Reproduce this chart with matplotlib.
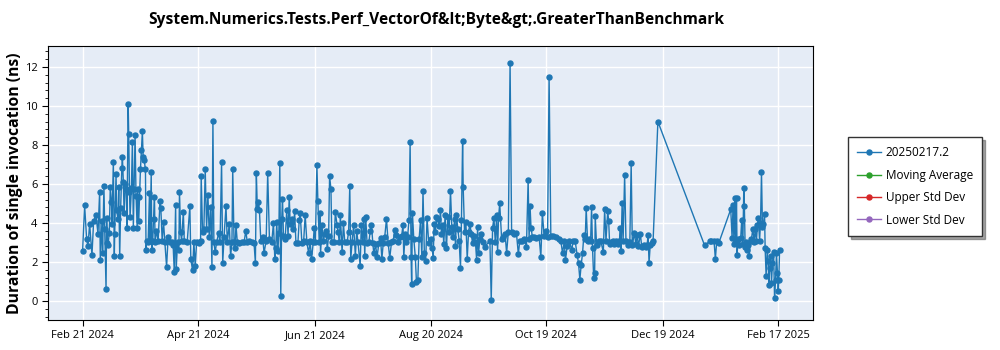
import matplotlib
matplotlib.use("Agg")
import matplotlib.pyplot as plt
import matplotlib.dates as mdates
from matplotlib.ticker import MultipleLocator
import pandas as pd

plt.rcParams['font.family'] = ['Open Sans', 'DejaVu Sans']

title = "System.Numerics.Tests.Perf_VectorOf&lt;Byte&gt;.GreaterThanBenchmark"
series_name = "20250217.2"
start_date = "2024-02-21"

# days since Feb 21 2024
day_offset = [
    0, 1.05, 2.09, 2.79, 3.66, 4.87, 5.74, 6.96, 8.0, 8.87, 9.2, 10.1, 10.4, 11.1, 11.5, 12.2,
    12.5, 12.9, 13.2, 13.9, 14.4, 15.0, 15.3, 16.0, 16.5, 16.7, 17.4, 17.7, 18.4, 18.8, 19.3,
    19.8, 20.4, 20.7, 21.2, 21.6, 22.3, 22.8, 23.1, 23.7, 24.0, 24.4, 24.7, 25.4, 25.9, 26.4,
    26.8, 27.3, 27.8, 28.4, 28.7, 29.2, 29.6, 30.1, 30.6, 31.1, 31.5, 32.0, 32.7, 33.0, 33.4,
    34.1, 34.8, 35.1, 35.7, 36.0, 36.5, 36.9, 37.4, 37.7, 38.4, 39.3, 40.3, 40.7, 41.4, 42.1,
    42.8, 43.7, 44.5, 45.4, 46.3, 47.1, 47.7, 48.4, 48.7, 49.4, 50.1, 50.4, 51.0, 51.5, 52.4,
    52.9,
    54.4, 55.8, 56.3, 57.2, 57.9, 58.6, 59.3, 60.5, 61.4, 61.7, 62.4, 63.1, 63.8, 64.5, 65.2,
    65.9, 66.6, 67.3, 67.8, 68.3, 69.0, 69.7, 70.8, 71.5, 72.3, 72.9, 73.6, 74.6, 75.3, 76.3,
    77.0, 77.7, 78.1, 78.8, 79.3, 79.8, 80.5, 81.6, 82.8, 84.0, 84.9, 85.7, 86.8, 88.0, 89.2,
    89.9, 90.4, 90.9, 91.5, 92.0, 92.7, 93.7, 94.4, 95.5, 96.3, 97.2, 98.4, 99.3, 100.0, 100.5,
    101.0, 101.6, 102.1, 102.6, 103.1, 103.6, 104.0, 104.5, 105.4, 106.2, 106.9, 107.5, 108.0,
    108.9, 109.7, 110.3, 111.0, 112.0, 112.7, 113.2, 114.1, 115.0, 115.8, 116.7, 117.6, 118.4,
    119.1, 120.0, 120.5, 121.1, 121.9, 122.4, 123.1, 123.5, 123.8, 124.5, 125.2, 125.9, 126.6,
    127.3, 128.0, 128.5, 129.2, 129.7, 130.8, 131.5, 132.4, 132.9, 133.6, 134.1, 135.0, 135.7,
    136.4, 137.6, 138.4, 139.0, 139.5, 140.2, 141.0, 141.9, 142.6, 143.3, 144.4, 145.0, 145.7,
    146.3, 146.8, 147.3, 148.0, 148.9, 149.7, 150.3, 151.0, 151.5, 152.4, 153.2, 154.1, 155.0,
    155.7, 156.4, 157.2, 158.1, 159.0, 159.8, 160.7, 161.6,
    162.4, 163.2, 163.9, 165.0, 166.0, 166.7, 167.1, 167.8, 168.4, 169.1, 169.8, 170.4, 170.9,
    171.2, 171.6, 172.3, 173.1, 173.7, 174.4, 175.1, 175.8, 176.5, 177.1, 177.8, 178.5, 179.2,
    180.1, 181.0, 181.8, 182.4, 182.9, 183.6, 184.1, 184.8, 185.5, 186.2, 186.7, 187.4, 187.9,
    188.6, 189.3, 190.0, 190.7, 191.4, 192.1, 192.8, 193.5, 194.0, 194.5, 195.2, 195.9, 196.6,
    197.1, 197.7, 198.0, 198.7, 199.4, 200.1, 200.8, 201.5, 202.2, 202.9, 203.6, 204.4, 205.0,
    205.5, 206.0, 206.7, 207.4, 208.4, 209.1, 211.9, 212.6, 213.3, 214.0, 214.7, 215.4, 215.9,
    216.4, 217.0,
    218.0, 218.7, 219.8, 220.6, 221.5, 222.4, 223.2, 224.5, 225.7, 226.7, 227.4, 228.8, 229.9,
    230.9, 231.8, 232.3, 232.8, 233.3, 234.0, 234.9, 236.1, 237.5, 238.4, 239.2, 240.1, 241.0,
    241.9, 242.7, 243.6, 244.8, 246.2, 247.6, 248.8, 249.7, 250.6, 251.2, 252.1, 253.2, 254.5,
    255.2, 256.3, 257.3, 258.0, 258.7, 259.4, 260.1, 260.8, 261.5, 262.0, 262.7, 263.6, 264.3,
    264.8, 265.3, 265.9, 266.4, 266.7, 267.4, 268.5, 269.7, 270.9, 271.6, 272.3,
    273.2, 273.7, 274.2, 274.9, 275.8, 276.7, 277.5, 278.4, 279.3, 279.8, 280.1, 280.7, 281.2,
    282.0, 282.7, 283.6, 284.7, 285.4, 286.0, 287.1, 287.8, 288.5, 289.2, 290.2, 290.9, 292.0,
    293.0, 293.7, 294.2, 294.7, 295.3, 296.1, 296.8, 299.3,
    323.6, 326.2, 327.1, 328.5, 329.2, 329.9, 330.9,
    337.2, 337.9, 338.4, 338.9, 339.3, 339.8, 340.2, 340.5, 341.0, 341.7, 342.4, 342.9, 343.5,
    344.0, 344.3, 344.7, 345.2, 345.7, 346.2, 346.8, 347.5, 348.0, 348.7, 349.4, 349.9, 350.6,
    351.1, 351.6, 352.2, 352.7, 353.2, 353.7, 354.2, 354.8, 355.1, 355.6, 356.2, 356.7, 357.0,
    357.5, 358.1, 358.4, 358.9, 359.5, 360.0, 360.5, 361.0, 361.5, 361.9, 362.2, 362.6,
]

duration_ns = [
    2.55, 4.9, 3.2, 2.8, 3.97, 2.34, 4.1, 4.4, 3.45, 5.6, 2.1, 4.1, 2.45, 5.9, 3.7, 0.6,
    4.25, 2.95, 2.85, 3.5, 5.85, 5.1, 3.97, 7.15, 2.3, 3.45, 6.5, 4.65, 4.2, 5.85, 2.3,
    4.75, 6.8, 7.4, 6.1, 4.5, 6.0, 5.75, 3.75, 10.1, 8.55, 5.6, 4.3, 5.8, 8.15, 3.75,
    5.75, 8.5, 5.4, 3.75, 5.75, 4.1, 5.35, 6.75, 7.75, 8.7, 7.4, 7.25, 6.75, 2.6, 3.1,
    3.0, 5.55, 3.1, 6.6, 2.6, 3.1, 4.2, 5.35, 3.0, 3.6, 3.1, 5.15, 4.75, 3.1, 4.05,
    3.0, 1.75, 3.3, 3.0, 3.0, 2.85, 1.5, 4.9, 1.65, 3.0, 2.6, 5.6, 3.55, 3.1, 4.55,
    3.1,
    3.0, 4.85, 2.15, 1.57, 3.0, 1.78, 3.0, 2.95, 3.1, 6.4, 3.55, 3.7, 6.75, 3.7, 5.45,
    3.3, 4.8, 1.75, 9.25, 3.0, 2.5, 3.0, 3.5, 3.0, 7.1, 1.95, 3.3, 4.85, 3.0, 3.95,
    2.3, 3.0, 6.75, 3.0, 2.7, 3.9, 3.0, 2.95, 3.0, 3.0, 3.6, 3.0, 3.05, 3.0, 2.95,
    1.95, 6.55, 4.7, 5.1, 4.65, 3.1, 3.3, 2.45, 3.1, 6.55, 3.2, 3.0, 4.0, 2.15, 2.7,
    4.05, 2.55, 3.5, 7.05, 0.25, 4.2, 5.25, 3.35, 3.2, 4.65, 3.35, 5.35, 3.95,
    4.2, 3.7, 4.6, 2.95, 2.95, 4.15, 4.5, 2.95, 3.05, 4.4, 3.0, 2.45, 3.05,
    2.15, 3.0, 3.75, 3.0, 6.95, 5.15, 3.0, 4.5, 2.4, 3.9, 3.05, 3.45, 3.6,
    2.65, 3.35, 6.4, 5.75, 3.0, 3.0, 4.55, 3.9, 3.55, 3.0, 4.4, 2.5, 4.0,
    3.0, 3.0, 3.55, 5.9, 2.15, 3.0, 3.9, 2.3, 3.6, 3.0, 1.8, 3.9, 3.0,
    4.2, 2.3, 4.3, 2.95, 3.0, 3.6, 3.9, 2.95, 2.45, 2.9, 2.25, 2.95, 3.25,
    2.15, 2.95, 3.3, 4.2, 2.95, 2.2, 3.0, 3.05,
    3.65, 3.4, 3.0, 3.3, 3.35, 3.9, 2.25, 3.45, 3.0, 3.3, 4.15, 8.15, 2.25,
    0.85, 4.5, 3.2, 2.25, 0.95, 1.05, 3.2, 4.15, 2.25, 5.65, 2.45, 2.05, 4.25,
    2.95, 3.2, 2.7, 2.2, 3.95, 3.55, 4.3, 4.2, 3.85, 4.65, 3.45, 3.9, 2.9,
    4.4, 2.7, 4.3, 3.55, 5.65, 3.8, 3.3, 4.2, 2.8, 4.4, 3.7, 3.1, 1.7,
    4.15, 8.2, 5.85, 3.55, 4.05, 2.15, 3.55, 3.95, 3.45, 2.95, 3.35, 3.0, 2.1,
    3.8, 2.45, 3.2, 3.45, 3.0, 2.75, 3.1, 0.05, 3.75, 4.25, 3.0, 4.4, 2.5,
    4.25, 5.0,
    3.2, 3.3, 3.45, 2.45, 3.55, 12.2, 3.55, 3.45, 3.5, 2.4, 3.05, 3.1, 3.2,
    2.75, 6.2, 3.2, 4.85, 3.75, 3.3, 3.3, 3.25, 3.3, 2.25, 4.5, 3.35, 3.6,
    3.3, 11.5, 3.35, 3.35, 3.3, 3.2, 3.1, 2.45, 3.05, 2.1, 2.8, 3.1, 2.6,
    3.1, 3.05, 2.35, 1.95, 1.1, 1.85, 2.45, 3.4, 3.2, 4.75, 3.1, 3.2, 3.05,
    4.8, 2.7, 1.2, 1.45, 4.35, 2.85, 3.1, 3.05, 2.5, 4.7, 3.1,
    4.6, 4.1, 2.9, 3.0, 3.1, 2.9, 3.05, 2.9, 3.1, 3.75, 2.55, 5.0, 3.05,
    6.45, 3.05, 2.85, 3.0, 7.05, 2.85, 3.5, 2.9, 3.4, 2.8, 3.45, 2.75, 2.85,
    2.75, 2.85, 3.4, 1.95, 2.85, 2.95, 3.05, 9.2,
    2.85, 3.05, 3.05, 3.1, 2.15, 3.05, 2.95,
    4.7, 3.25, 4.9, 2.9, 5.3, 3.1, 5.3, 2.35, 3.2, 2.85, 3.25, 4.15, 2.9,
    5.8, 4.85, 2.75, 3.0, 2.6, 2.85, 2.3, 3.1, 3.2, 3.7, 3.0, 3.7, 3.1,
    3.9, 4.25, 3.1, 4.0, 6.6, 3.8, 3.95, 4.45, 2.7, 1.3, 2.6, 2.05, 0.8,
    1.7, 2.3, 0.9, 1.95, 2.5, 0.15, 1.05, 2.45, 1.45, 0.5, 1.05, 2.6,
]

# the other legend entries have no data in this chart
moving_average = []
upper_std_dev = []
lower_std_dev = []

tick_dates = ["2024-02-21", "2024-04-21", "2024-06-21", "2024-08-20",
              "2024-10-19", "2024-12-19", "2025-02-17"]

dates = pd.Timestamp(start_date) + pd.to_timedelta(day_offset, unit="D")

fig = plt.figure(figsize=(10, 3.5), dpi=100)
ax = fig.add_axes([0.048, 0.086, 0.765, 0.783])
ax.set_facecolor("#E5ECF6")

ax.plot(dates, duration_ns, color="#1f77b4", lw=1, marker="o", ms=3.6, label=series_name)
ax.plot(moving_average, moving_average, color="#2ca02c", lw=1, marker="o", ms=3.6, label="Moving Average")
ax.plot(upper_std_dev, upper_std_dev, color="#d62728", lw=1, marker="o", ms=3.6, label="Upper Std Dev")
ax.plot(lower_std_dev, lower_std_dev, color="#9467bd", lw=1, marker="o", ms=3.6, label="Lower Std Dev")

ax.set_xlim(pd.Timestamp("2024-02-03"), pd.Timestamp("2025-03-07"))
ax.set_ylim(-0.97, 13.08)
ax.set_xticks(pd.to_datetime(tick_dates))
ax.xaxis.set_major_formatter(mdates.DateFormatter("%b %d %Y"))
ax.yaxis.set_major_locator(MultipleLocator(2))
ax.yaxis.set_minor_locator(MultipleLocator(0.4))
ax.grid(True, color="white", lw=1)
ax.set_axisbelow(True)
ax.tick_params(labelsize=8, length=4)
ax.tick_params(axis="y", which="minor", length=2.5)
for s in ax.spines.values():
    s.set_color("black")

ax.set_ylabel("Duration of single invocation (ns)", fontsize=11.3, fontweight="bold", labelpad=1)
fig.suptitle(title, x=0.436, y=0.965, fontsize=11.2, fontweight="bold")

fig.legend(loc="upper left", bbox_to_anchor=(0.848, 0.609), fontsize=8.5, frameon=True,
           fancybox=False, shadow=True, edgecolor="#333333", borderaxespad=0,
           handlelength=2.0, handletextpad=0.4, labelspacing=0.8, borderpad=0.8)

fig.savefig("out.png", dpi=100)
